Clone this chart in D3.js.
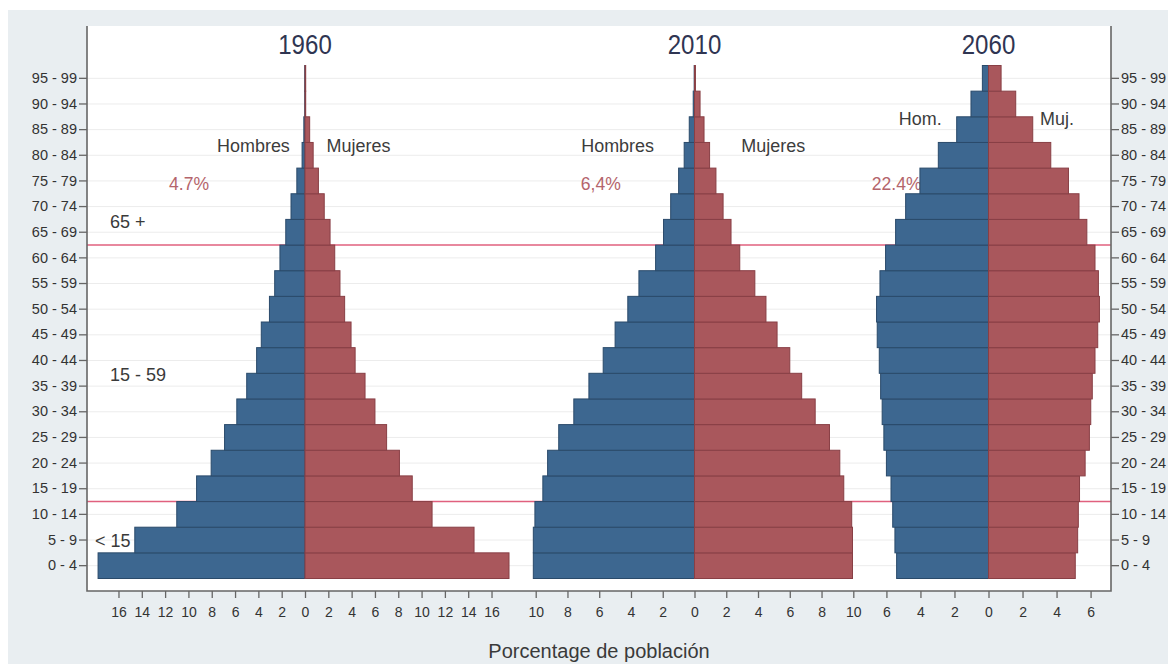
<!DOCTYPE html>
<html><head><meta charset="utf-8">
<script src="https://cdn.jsdelivr.net/npm/d3@7"></script>
<style>
html,body{margin:0;padding:0;background:#fff;}
svg{display:block;font-family:"Liberation Sans",Arial,Helvetica,sans-serif;}
</style>
</head><body>
<svg id="chart" width="1168" height="664"></svg>
<script>
// ---------- data ----------
const ageGroups = ["0 - 4","5 - 9","10 - 14","15 - 19","20 - 24","25 - 29","30 - 34","35 - 39","40 - 44","45 - 49",
                   "50 - 54","55 - 59","60 - 64","65 - 69","70 - 74","75 - 79","80 - 84","85 - 89","90 - 94","95 - 99"];
const years = ["1960","2010","2060"];
const men1960   = [17.75,14.6,11.0,9.3,8.05,6.9,5.85,5.0,4.15,3.75,3.05,2.6,2.15,1.65,1.2,0.7,0.25,0.1,0.02,0.02];
const women1960 = [17.5,14.5,10.9,9.2,8.1,7.0,6.0,5.15,4.3,3.95,3.4,3.0,2.55,2.15,1.65,1.15,0.7,0.4,0.06,0.06];
const men2010   = [10.15,10.15,10.05,9.55,9.25,8.55,7.6,6.65,5.75,5.0,4.2,3.5,2.45,1.95,1.5,1.0,0.65,0.33,0.08,0.02];
const women2010 = [9.95,9.95,9.9,9.4,9.15,8.5,7.6,6.75,6.0,5.2,4.5,3.8,2.85,2.3,1.8,1.35,0.95,0.6,0.35,0.06];
const men2060   = [5.4,5.5,5.63,5.73,6.0,6.15,6.25,6.34,6.42,6.54,6.58,6.38,6.05,5.46,4.87,4.03,2.95,1.87,1.03,0.36];
const women2060 = [5.1,5.24,5.28,5.35,5.68,5.93,6.01,6.1,6.26,6.42,6.52,6.46,6.26,5.78,5.32,4.7,3.66,2.6,1.6,0.74];
const xTicks1960 = [-16,-14,-12,-10,-8,-6,-4,-2,0,2,4,6,8,10,12,14,16];
const xTicks2010 = [-10,-8,-6,-4,-2,0,2,4,6,8,10];
const xTicks2060 = [-6,-4,-2,0,2,4,6];
const sexLabels1960 = ["Hombres","Mujeres"];
const sexLabels2010 = ["Hombres","Mujeres"];
const sexLabels2060 = ["Hom.","Muj."];
const olderShares = ["4.7%","6,4%","22.4%"];
const groupLabels = ["65 +","15 - 59","< 15"];
const xTitle = "Porcentage de población";

// ---------- layout ----------
const W = 1168, H = 664;
const plot = {x0: 87, x1: 1111, y0: 26, y1: 591};
const C = {
  bg: "#e9eef1", blue: "#3d6790", blueStroke: "#2a4a6a", red: "#a9575c", redStroke: "#883f45",
  grid: "#ececec", refLine: "#e0607e", axis: "#666", text: "#333", title: "#2f3552", share: "#b4646b"
};

const svg = d3.select("#chart");
svg.append("rect").attr("width", W).attr("height", H).attr("fill", "#fff");
svg.append("rect").attr("x", 8).attr("y", 10).attr("width", W - 8).attr("height", H - 10).attr("fill", C.bg);
svg.append("rect").attr("x", plot.x0).attr("y", plot.y0)
   .attr("width", plot.x1 - plot.x0).attr("height", plot.y1 - plot.y0).attr("fill", "#fff");

const y = d3.scaleBand().domain(ageGroups).range([578.5, 65.5]).paddingInner(0).paddingOuter(0);

const panels = [
  {year: years[0], men: men1960, women: women1960, ticks: xTicks1960, half: 18.7, range: [87, 523], sex: sexLabels1960, share: olderShares[0]},
  {year: years[1], men: men2010, women: women2010, ticks: xTicks2010, half: 10.8, range: [523, 866], sex: sexLabels2010, share: olderShares[1]},
  {year: years[2], men: men2060, women: women2060, ticks: xTicks2060, half: 7.2, range: [866, 1111], sex: sexLabels2060, share: olderShares[2]}
];
panels.forEach(p => { p.x = d3.scaleLinear().domain([-p.half, p.half]).range(p.range); });

// gridlines
svg.append("g").selectAll("line").data(ageGroups).join("line")
  .attr("x1", plot.x0).attr("x2", plot.x1)
  .attr("y1", d => y(d) + y.bandwidth() / 2).attr("y2", d => y(d) + y.bandwidth() / 2)
  .attr("stroke", C.grid).attr("stroke-width", 1);

// reference lines (65+ and <15 boundaries)
[ageGroups[12], ageGroups[2]].forEach(a => {
  svg.append("line").attr("x1", plot.x0).attr("x2", plot.x1)
    .attr("y1", y(a)).attr("y2", y(a)).attr("stroke", C.refLine).attr("stroke-width", 1.5);
});

// helper for text
function txt(x, yy, s, opt) {
  const g = svg.append("g").attr("transform", `translate(${x},${yy})`);
  return g.append("text").text(s)
    .attr("transform", `scale(${opt.sx || 1},1)`)
    .attr("text-anchor", opt.anchor || "start")
    .attr("font-size", opt.size).attr("fill", opt.fill || C.text);
}

// annotation texts (under bars)
const sexPos = [
  {l: -1.3, r: 1.85, dy: -3, row: 16},
  {l: -2.55, r: 2.95, dy: -3, row: 16},
  {l: -2.75, r: 3.03, dy: -4.6, row: 17}
];
const sharePos = [-9.95, -5.9, -5.4];
panels.forEach((p, i) => {
  const sp = sexPos[i];
  const by = y(ageGroups[sp.row]) + y.bandwidth() / 2 + sp.dy;
  txt(p.x(sp.l), by, p.sex[0], {anchor: "end", size: 18.5, sx: 0.97, fill: "#3c3c3c"});
  txt(p.x(sp.r), by, p.sex[1], {anchor: "start", size: 18.5, sx: 0.97, fill: "#3c3c3c"});
  const sy = y(ageGroups[15]) + y.bandwidth() / 2 + 9;
  txt(p.x(sharePos[i]), sy, p.share, {anchor: "middle", size: 18.5, sx: 0.95, fill: C.share});
});

// group labels on left
const topLine = y(ageGroups[12]), lowLine = y(ageGroups[2]);
txt(110, topLine - 17, groupLabels[0], {size: 18, fill: "#3a3a3a"});
txt(110, (topLine + lowLine) / 2 + 8, groupLabels[1], {size: 18, fill: "#3a3a3a"});
txt(95, (lowLine + y.range()[0]) / 2 + 6.5, groupLabels[2], {size: 18, fill: "#3a3a3a"});

// bars
panels.forEach(p => {
  const g = svg.append("g");
  g.selectAll("rect.m").data(ageGroups).join("rect").attr("class", "m")
    .attr("x", (d, i) => p.x(-p.men[i])).attr("width", (d, i) => p.x(0) - p.x(-p.men[i]))
    .attr("y", d => y(d)).attr("height", y.bandwidth())
    .attr("fill", C.blue).attr("stroke", C.blueStroke).attr("stroke-width", 1);
  g.selectAll("rect.f").data(ageGroups).join("rect").attr("class", "f")
    .attr("x", p.x(0)).attr("width", (d, i) => p.x(p.women[i]) - p.x(0))
    .attr("y", d => y(d)).attr("height", y.bandwidth())
    .attr("fill", C.red).attr("stroke", C.redStroke).attr("stroke-width", 1);
});

// x axes
panels.forEach(p => {
  const ax = svg.append("g").attr("transform", `translate(0,${plot.y1})`)
    .call(d3.axisBottom(p.x).tickValues(p.ticks).tickFormat(d => Math.abs(d)).tickSize(7).tickPadding(9));
  ax.select(".domain").remove();
  ax.selectAll(".tick line").attr("stroke", C.axis).attr("stroke-width", 1.3);
  ax.selectAll(".tick text").attr("font-size", 14).attr("fill", C.text)
    .attr("font-family", "Liberation Sans, Arial, sans-serif");
});

// y axes left and right
const yl = svg.append("g").attr("transform", `translate(${plot.x0},0)`)
  .call(d3.axisLeft(y).tickSize(8).tickPadding(2));
const yr = svg.append("g").attr("transform", `translate(${plot.x1},0)`)
  .call(d3.axisRight(y).tickSize(8).tickPadding(2));
[yl, yr].forEach(ax => {
  ax.select(".domain").remove();
  ax.selectAll(".tick line").attr("stroke", C.axis).attr("stroke-width", 1.3);
  ax.selectAll(".tick text").attr("font-size", 14.5).attr("fill", C.text)
    .attr("font-family", "Liberation Sans, Arial, sans-serif");
});

// frame lines
const frame = svg.append("g").attr("stroke", C.axis).attr("stroke-width", 1.6).attr("fill", "none");
frame.append("path").attr("d", `M${plot.x0},${plot.y0}V${plot.y1}H${plot.x1}V${plot.y0}`);

// year titles
panels.forEach(p => {
  txt(p.x(0), 54, p.year, {anchor: "middle", size: 28, sx: 0.86, fill: C.title});
});

// x title
txt((plot.x0 + plot.x1) / 2, 658, xTitle, {anchor: "middle", size: 20, fill: "#3a3a3a"});
</script>
</body></html>
